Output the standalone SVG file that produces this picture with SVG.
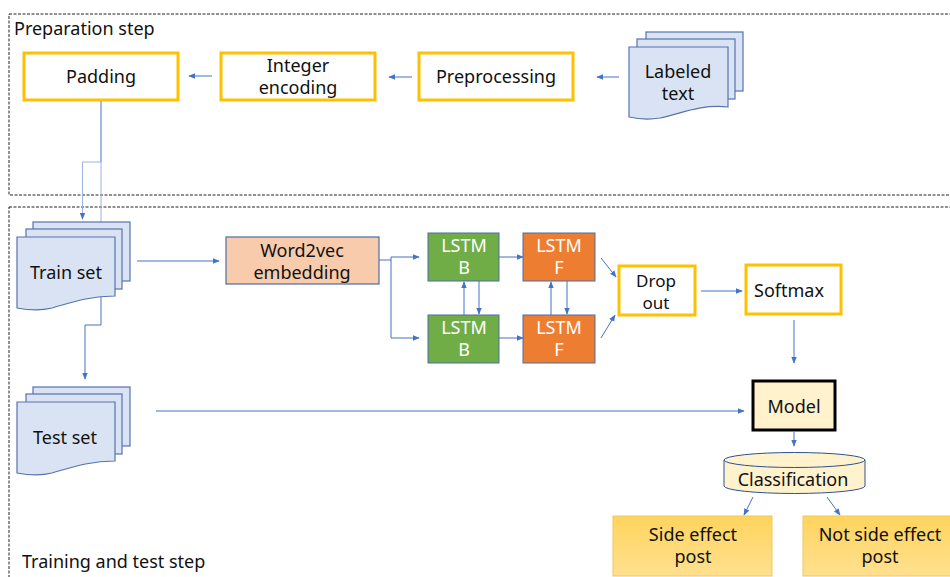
<svg xmlns="http://www.w3.org/2000/svg" width="950" height="577" viewBox="0 0 950 577">
  <defs>
    <marker id="arr" viewBox="0 0 10 10" refX="9" refY="5" markerWidth="7" markerHeight="7" orient="auto" markerUnits="userSpaceOnUse">
      <path d="M0,1 L10,5 L0,9 Z" fill="#4472C4"/>
    </marker>
    <linearGradient id="outGrad" x1="0" y1="0" x2="0" y2="1">
      <stop offset="0" stop-color="#FFD45E"/>
      <stop offset="1" stop-color="#FFE08F"/>
    </linearGradient>
    <style>
      text { font-family: "Noto Sans", "Open Sans", sans-serif; font-size: 18px; fill: #111; text-anchor: middle; }
      .lbl { text-anchor: start; font-size: 18px; }
      .white { fill: #ffffff; }
      .frame { fill: none; stroke: #222; stroke-width: 1; stroke-dasharray: 3 1.5; }
      .ybox { fill: #ffffff; stroke: #FFC000; stroke-width: 3; }
      .doc { fill: #DAE3F3; stroke: #5673AC; stroke-width: 1.2; }
      .green { fill: #70AD47; stroke: #4A6FA5; stroke-width: 1; }
      .orange { fill: #ED7D31; stroke: #4A6FA5; stroke-width: 1; }
      .emb { fill: #F8CBAD; stroke: #4A6FA5; stroke-width: 1.2; }
      .out { fill: url(#outGrad); stroke: #F3C55A; stroke-width: 1; }
      .small { font-size: 17px; }
      .conn path, .conn line { fill: none; stroke: #4472C4; stroke-width: 1; }
      .light { stroke: #9DB3E0 !important; }
    </style>
  </defs>

  <!-- section frames -->
  <g id="prep-frame">
    <rect class="frame" x="9" y="14" width="960" height="181"/>
    <text class="lbl" x="14" y="35">Preparation step</text>
  </g>
  <g id="train-frame">
    <rect class="frame" x="9" y="207" width="960" height="400"/>
    <text class="lbl" x="22" y="568">Training and test step</text>
  </g>

  <!-- connectors -->
  <g id="connectors" class="conn">
    <line x1="619" y1="77" x2="597" y2="77" marker-end="url(#arr)"/>
    <line x1="412" y1="77" x2="389" y2="77" marker-end="url(#arr)"/>
    <line x1="212" y1="76" x2="189" y2="76" marker-end="url(#arr)"/>
    <path d="M101,101 V162"/>
    <path class="light" d="M101,162 H82.5 V219" marker-end="url(#arr)"/>
    <path class="light" d="M101,162 V222"/>
    <path d="M101,297 V325 H85 V379" marker-end="url(#arr)"/>
    <line x1="137" y1="261" x2="219" y2="261" marker-end="url(#arr)"/>
    <line x1="156" y1="411" x2="744" y2="411" marker-end="url(#arr)"/>
    <path d="M379,260 H391 V257 H419" marker-end="url(#arr)"/>
    <path d="M391,260 V338 H419" marker-end="url(#arr)"/>
    <line x1="499" y1="257" x2="523" y2="257" marker-end="url(#arr)"/>
    <line x1="499" y1="338" x2="523" y2="338" marker-end="url(#arr)"/>
    <line x1="464" y1="315" x2="464" y2="282" marker-end="url(#arr)"/>
    <line x1="479" y1="281" x2="479" y2="314" marker-end="url(#arr)"/>
    <line x1="551" y1="315" x2="551" y2="282" marker-end="url(#arr)"/>
    <line x1="567" y1="281" x2="567" y2="314" marker-end="url(#arr)"/>
    <line x1="601" y1="258" x2="616" y2="277" marker-end="url(#arr)"/>
    <line x1="601" y1="338" x2="615" y2="315" marker-end="url(#arr)"/>
    <line x1="701" y1="291" x2="742" y2="291" marker-end="url(#arr)"/>
    <line x1="794" y1="320" x2="794" y2="363" marker-end="url(#arr)"/>
    <line x1="794" y1="432" x2="794" y2="446" marker-end="url(#arr)"/>
    <line x1="753" y1="497" x2="744" y2="515" marker-end="url(#arr)"/>
    <line x1="827" y1="497" x2="840" y2="515" marker-end="url(#arr)"/>
  </g>

  <!-- preparation nodes -->
  <g id="padding">
    <rect class="ybox" x="24" y="53" width="154" height="47"/>
    <text x="101" y="83">Padding</text>
  </g>
  <g id="integer-encoding">
    <rect class="ybox" x="221" y="53" width="154" height="47"/>
    <text x="298" y="72">Integer</text>
    <text x="298" y="94">encoding</text>
  </g>
  <g id="preprocessing">
    <rect class="ybox" x="419" y="53" width="154" height="47"/>
    <text x="496" y="83">Preprocessing</text>
  </g>
  <g id="labeled-text">
    <rect class="doc" x="646" y="32" width="97" height="59"/>
    <rect class="doc" x="637" y="39" width="98" height="60"/>
    <path class="doc" d="M629,47 H728 V107 C700,104 680,114 660,118 C648,120 638,119 629,117 Z"/>
    <text x="678" y="78">Labeled</text>
    <text x="678" y="100">text</text>
  </g>

  <!-- training nodes -->
  <g id="train-set">
    <rect class="doc" x="33" y="222" width="97" height="59"/>
    <rect class="doc" x="26" y="229" width="96" height="60"/>
    <path class="doc" d="M17,237 H115 V296 C88,296 70,303 52,308 C40,311 28,310 17,308 Z"/>
    <text x="66" y="279">Train set</text>
  </g>
  <g id="test-set">
    <rect class="doc" x="33" y="387" width="97" height="59"/>
    <rect class="doc" x="26" y="394" width="96" height="60"/>
    <path class="doc" d="M17,402 H115 V461 C88,461 70,468 52,473 C40,476 28,475 17,473 Z"/>
    <text x="65" y="444">Test set</text>
  </g>
  <g id="word2vec">
    <rect class="emb" x="226" y="237" width="153" height="47"/>
    <text x="302" y="257">Word2vec</text>
    <text x="302" y="279">embedding</text>
  </g>
  <g id="lstm-b-top">
    <rect class="green" x="428" y="233" width="71" height="48"/>
    <text class="white" x="464" y="252">LSTM</text>
    <text class="white" x="464" y="274">B</text>
  </g>
  <g id="lstm-b-bottom">
    <rect class="green" x="428" y="315" width="71" height="48"/>
    <text class="white" x="464" y="334">LSTM</text>
    <text class="white" x="464" y="356">B</text>
  </g>
  <g id="lstm-f-top">
    <rect class="orange" x="523" y="233" width="72" height="48"/>
    <text class="white" x="559" y="252">LSTM</text>
    <text class="white" x="559" y="274">F</text>
  </g>
  <g id="lstm-f-bottom">
    <rect class="orange" x="523" y="315" width="72" height="48"/>
    <text class="white" x="559" y="334">LSTM</text>
    <text class="white" x="559" y="356">F</text>
  </g>
  <g id="dropout">
    <rect class="ybox" x="619" y="266" width="76" height="49"/>
    <text class="small" x="656" y="287">Drop</text>
    <text class="small" x="656" y="309">out</text>
  </g>
  <g id="softmax">
    <rect class="ybox" x="746" y="265" width="95" height="49"/>
    <text x="789" y="297">Softmax</text>
  </g>
  <g id="model">
    <rect x="753" y="381" width="82" height="49" fill="#FFF2CC" stroke="#000" stroke-width="3"/>
    <text x="794" y="413">Model</text>
  </g>
  <g id="classification">
    <path d="M724,460 V486 A70.5,7.5 0 0 0 865,486 V460" fill="#FFF2CC" stroke="#2F528F" stroke-width="1"/>
    <ellipse cx="794.5" cy="460" rx="70.5" ry="7.5" fill="#FFF2CC" stroke="#2F528F" stroke-width="1"/>
    <text x="793" y="486">Classification</text>
  </g>
  <g id="side-effect-post">
    <rect class="out" x="613" y="516" width="159" height="60"/>
    <text x="693" y="541">Side effect</text>
    <text x="693" y="563">post</text>
  </g>
  <g id="not-side-effect-post">
    <rect class="out" x="803" y="516" width="160" height="60"/>
    <text x="880" y="541">Not side effect</text>
    <text x="880" y="563">post</text>
  </g>
</svg>
